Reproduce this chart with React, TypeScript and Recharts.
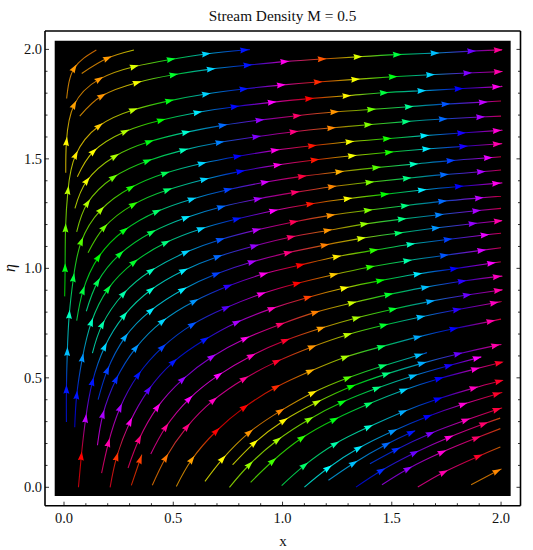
import { ScatterChart, Scatter, XAxis, YAxis, ReferenceArea } from 'recharts'

const xTicks = [0, 0.1, 0.2, 0.3, 0.4, 0.5, 0.6, 0.7, 0.8, 0.9, 1, 1.1, 1.2, 1.3, 1.4, 1.5, 1.6, 1.7, 1.8, 1.9, 2]
const yTicks = xTicks
const xDomain = [-0.087, 2.089]
const yDomain = [-0.084, 2.084]
const panelX = [-0.0426, 2.044]
const panelY = [-0.04, 2.04]

// each stream: start, arrow positions, end
const streamPoints: [number, number][][] = [
  [[0.012, 1.776], [0.046, 1.913], [0.148, 1.997]],
  [[0.081, 1.89], [0.198, 1.959], [0.32, 1.997]],
  [[0.008, 1.437], [0.011, 1.578], [0.046, 1.746], [0.16, 1.863], [0.32, 1.921], [0.488, 1.954], [0.649, 1.979], [0.824, 1.997], [0.841, 1.998]],
  [[0.072, 1.695], [0.172, 1.787], [0.333, 1.848], [0.5, 1.884], [0.671, 1.91], [0.839, 1.928], [1.008, 1.944], [1.179, 1.956], [1.343, 1.966], [1.523, 1.976], [1.695, 1.983], [1.863, 1.992], [1.985, 1.997], [2.0, 1.998]],
  [[0.003, 0.872], [0.005, 1.001], [0.007, 1.183], [0.018, 1.355], [0.053, 1.517], [0.16, 1.65], [0.316, 1.723], [0.481, 1.765], [0.649, 1.796], [0.821, 1.819], [0.992, 1.837], [1.161, 1.851], [1.332, 1.863], [1.504, 1.875], [1.675, 1.884], [1.845, 1.892], [1.985, 1.898], [2.0, 1.899]],
  [[0.061, 1.418], [0.134, 1.533], [0.279, 1.624], [0.443, 1.676], [0.61, 1.712], [0.78, 1.738], [0.95, 1.758], [1.121, 1.775], [1.292, 1.788], [1.463, 1.802], [1.635, 1.811], [1.805, 1.82], [1.977, 1.829], [2.0, 1.831]],
  [[0.05, 1.274], [0.104, 1.399], [0.232, 1.511], [0.389, 1.578], [0.557, 1.621], [0.725, 1.653], [0.894, 1.677], [1.065, 1.697], [1.236, 1.714], [1.405, 1.726], [1.577, 1.738], [1.745, 1.75], [1.916, 1.759], [2.0, 1.764]],
  [[0.058, 1.167], [0.107, 1.297], [0.226, 1.415], [0.381, 1.49], [0.546, 1.54], [0.711, 1.575], [0.879, 1.601], [1.05, 1.624], [1.222, 1.641], [1.391, 1.656], [1.564, 1.67], [1.733, 1.682], [1.904, 1.691], [2.0, 1.695]],
  [[0.011, 0.298], [0.011, 0.446], [0.015, 0.618], [0.024, 0.788], [0.043, 0.956], [0.079, 1.122], [0.168, 1.266], [0.305, 1.368], [0.462, 1.434], [0.63, 1.479], [0.793, 1.511], [0.964, 1.539], [1.134, 1.56], [1.306, 1.578], [1.477, 1.592], [1.648, 1.606], [1.817, 1.618], [1.98, 1.629], [2.0, 1.63]],
  [[0.11, 1.071], [0.183, 1.186], [0.317, 1.291], [0.473, 1.358], [0.641, 1.406], [0.806, 1.443], [0.976, 1.472], [1.146, 1.495], [1.317, 1.514], [1.486, 1.53], [1.657, 1.545], [1.826, 1.557], [1.98, 1.568], [2.0, 1.569]],
  [[0.058, 0.761], [0.087, 0.898], [0.157, 1.05], [0.275, 1.173], [0.424, 1.259], [0.584, 1.316], [0.749, 1.359], [0.918, 1.393], [1.088, 1.42], [1.259, 1.441], [1.428, 1.46], [1.599, 1.476], [1.768, 1.492], [1.939, 1.505], [2.0, 1.51]],
  [[0.102, 0.804], [0.153, 0.936], [0.256, 1.065], [0.4, 1.164], [0.557, 1.231], [0.718, 1.28], [0.886, 1.317], [1.056, 1.347], [1.225, 1.373], [1.397, 1.393], [1.568, 1.411], [1.738, 1.428], [1.907, 1.441], [2.0, 1.449]],
  [[0.049, 0.274], [0.058, 0.42], [0.084, 0.59], [0.125, 0.753], [0.201, 0.905], [0.32, 1.027], [0.465, 1.117], [0.626, 1.18], [0.79, 1.225], [0.957, 1.263], [1.126, 1.294], [1.297, 1.318], [1.466, 1.338], [1.637, 1.358], [1.806, 1.374], [1.977, 1.388], [2.0, 1.39]],
  [[0.13, 0.613], [0.175, 0.743], [0.272, 0.884], [0.398, 0.989], [0.557, 1.073], [0.714, 1.131], [0.88, 1.175], [1.05, 1.212], [1.219, 1.242], [1.39, 1.265], [1.559, 1.286], [1.73, 1.306], [1.898, 1.321], [2.0, 1.33]],
  [[0.066, 0.0], [0.079, 0.141], [0.099, 0.313], [0.13, 0.481], [0.186, 0.641], [0.275, 0.784], [0.397, 0.901], [0.546, 0.989], [0.703, 1.053], [0.87, 1.102], [1.038, 1.143], [1.205, 1.173], [1.373, 1.202], [1.545, 1.225], [1.715, 1.245], [1.886, 1.263], [2.0, 1.274]],
  [[0.156, 0.4], [0.198, 0.534], [0.279, 0.685], [0.397, 0.807], [0.542, 0.902], [0.696, 0.974], [0.859, 1.029], [1.024, 1.071], [1.192, 1.106], [1.359, 1.137], [1.53, 1.161], [1.7, 1.184], [1.869, 1.204], [1.985, 1.216], [2.0, 1.217]],
  [[0.153, 0.192], [0.178, 0.332], [0.238, 0.492], [0.328, 0.636], [0.45, 0.758], [0.595, 0.849], [0.749, 0.918], [0.912, 0.974], [1.08, 1.015], [1.247, 1.053], [1.416, 1.082], [1.585, 1.11], [1.755, 1.132], [1.924, 1.152], [2.0, 1.16]],
  [[0.172, 0.065], [0.203, 0.202], [0.256, 0.362], [0.339, 0.513], [0.45, 0.639], [0.587, 0.743], [0.741, 0.82], [0.902, 0.883], [1.065, 0.931], [1.233, 0.971], [1.4, 1.006], [1.57, 1.035], [1.738, 1.059], [1.909, 1.082], [2.0, 1.094]],
  [[0.211, 0.0], [0.241, 0.138], [0.302, 0.298], [0.386, 0.444], [0.5, 0.572], [0.644, 0.674], [0.79, 0.753], [0.95, 0.816], [1.115, 0.867], [1.282, 0.91], [1.446, 0.944], [1.617, 0.974], [1.784, 0.998], [1.954, 1.023], [2.0, 1.03]],
  [[0.293, 0.088], [0.343, 0.218], [0.427, 0.365], [0.542, 0.492], [0.676, 0.595], [0.828, 0.679], [0.989, 0.744], [1.149, 0.799], [1.317, 0.842], [1.484, 0.88], [1.652, 0.913], [1.82, 0.941], [1.98, 0.962], [2.0, 0.963]],
  [[0.397, 0.152], [0.465, 0.274], [0.572, 0.403], [0.706, 0.511], [0.856, 0.6], [1.012, 0.67], [1.175, 0.726], [1.337, 0.773], [1.504, 0.813], [1.675, 0.849], [1.843, 0.878], [1.985, 0.899], [2.0, 0.901]],
  [[0.308, 0.009], [0.348, 0.126], [0.357, 0.149]],
  [[0.404, 0.009], [0.465, 0.134], [0.562, 0.275], [0.683, 0.397], [0.824, 0.495], [0.973, 0.574], [1.134, 0.641], [1.297, 0.697], [1.462, 0.74], [1.631, 0.778], [1.797, 0.811], [1.967, 0.842], [2.0, 0.849]],
  [[0.514, 0.004], [0.584, 0.126], [0.696, 0.256], [0.825, 0.365], [0.97, 0.457], [1.126, 0.53], [1.286, 0.594], [1.451, 0.642], [1.617, 0.686], [1.782, 0.724], [1.951, 0.758], [2.0, 0.768]],
  [[0.645, 0.027], [0.725, 0.129], [0.847, 0.25], [0.989, 0.348], [1.137, 0.431], [1.297, 0.499], [1.458, 0.554], [1.622, 0.603], [1.661, 0.616]],
  [[0.772, 0.103], [0.87, 0.202], [1.005, 0.304], [1.157, 0.388], [1.314, 0.46], [1.474, 0.517], [1.637, 0.566], [1.802, 0.609], [1.973, 0.647], [1.996, 0.651]],
  [[0.757, 0.0], [0.848, 0.103], [0.976, 0.215], [1.121, 0.31], [1.272, 0.388], [1.431, 0.452], [1.596, 0.508], [1.759, 0.555], [1.889, 0.59], [1.904, 0.593]],
  [[0.854, 0.023], [0.954, 0.119], [1.088, 0.225], [1.236, 0.309], [1.393, 0.38], [1.553, 0.443], [1.715, 0.496], [1.881, 0.54], [1.99, 0.568], [2.0, 0.569]],
  [[0.996, 0.008], [1.099, 0.099], [1.24, 0.198], [1.393, 0.275], [1.55, 0.344], [1.71, 0.403], [1.874, 0.453], [1.99, 0.484], [2.0, 0.487]],
  [[1.1, 0.001], [1.207, 0.087], [1.347, 0.178], [1.504, 0.256], [1.664, 0.323], [1.825, 0.379], [1.98, 0.426], [2.0, 0.432]],
  [[1.21, 0.032], [1.324, 0.109], [1.474, 0.195], [1.588, 0.25], [1.603, 0.256]],
  [[1.4, 0.108], [1.519, 0.172], [1.675, 0.245], [1.837, 0.306], [1.98, 0.355], [2.0, 0.361]],
  [[1.336, 0.001], [1.451, 0.076], [1.603, 0.157], [1.761, 0.228], [1.919, 0.289], [1.996, 0.316]],
  [[1.455, 0.012], [1.573, 0.084], [1.729, 0.16], [1.886, 0.225], [1.997, 0.268]],
  [[1.619, 0.001], [1.736, 0.068], [1.895, 0.141], [1.997, 0.184]],
  [[1.863, 0.012], [1.98, 0.073], [2.0, 0.082]],
]

// hue of each point above, same order
const streamHues: number[][] = [
  [38, 36, 30],
  [38, 36, 62],
  [50, 58, 38, 36, 68, 130, 190, 235, 240],
  [40, 35, 62, 130, 190, 235, 305, 20, 68, 135, 195, 265, 325, 330],
  [120, 125, 95, 75, 55, 48, 75, 125, 190, 235, 305, 10, 62, 125, 190, 270, 320, 325],
  [55, 60, 78, 120, 185, 238, 300, 0, 58, 135, 190, 240, 305, 310],
  [70, 62, 80, 125, 170, 215, 275, 335, 35, 95, 155, 220, 285, 340],
  [85, 78, 95, 130, 165, 210, 270, 330, 32, 90, 150, 215, 280, 335],
  [235, 235, 195, 165, 135, 100, 80, 115, 140, 190, 240, 305, 5, 62, 115, 185, 245, 310, 315],
  [100, 95, 110, 145, 190, 238, 305, 5, 62, 115, 185, 245, 320, 325],
  [140, 135, 120, 125, 145, 190, 225, 290, 345, 42, 100, 165, 225, 295, 345],
  [160, 140, 130, 140, 185, 215, 280, 335, 32, 90, 150, 215, 280, 340],
  [240, 235, 205, 165, 135, 130, 150, 190, 235, 300, 5, 60, 120, 185, 240, 305, 310],
  [170, 160, 160, 165, 190, 220, 285, 340, 35, 90, 150, 215, 285, 345],
  [355, 0, 285, 235, 190, 165, 170, 185, 215, 275, 335, 35, 85, 150, 210, 280, 340],
  [225, 225, 200, 185, 185, 225, 280, 330, 30, 70, 145, 205, 275, 320, 325],
  [300, 280, 230, 205, 190, 205, 250, 305, 0, 55, 110, 165, 225, 295, 340],
  [335, 320, 280, 235, 225, 220, 260, 305, 0, 48, 110, 160, 220, 290, 340],
  [350, 12, 305, 260, 235, 235, 280, 315, 15, 60, 120, 185, 240, 300, 340],
  [335, 330, 305, 275, 280, 305, 335, 30, 72, 130, 195, 250, 315, 320],
  [320, 325, 300, 300, 315, 350, 38, 80, 130, 200, 265, 320, 325],
  [10, 15, 20],
  [30, 28, 330, 315, 325, 350, 35, 75, 130, 195, 250, 315, 340],
  [40, 38, 0, 0, 10, 42, 80, 140, 200, 240, 320, 345],
  [62, 58, 35, 32, 55, 100, 145, 195, 220],
  [62, 60, 58, 75, 120, 150, 200, 265, 320, 325],
  [80, 85, 80, 90, 125, 150, 195, 245, 300, 305],
  [95, 105, 110, 125, 145, 190, 240, 310, 350, 355],
  [140, 145, 160, 170, 200, 240, 315, 350, 355],
  [175, 180, 185, 205, 240, 310, 350, 355],
  [200, 195, 215, 235, 240],
  [225, 230, 270, 315, 345, 350],
  [240, 230, 265, 310, 335, 25],
  [280, 275, 310, 335, 20],
  [325, 320, 350, 30],
  [35, 32, 30],
]

const serif = '"Liberation Serif", serif'

const streams = streamPoints.map((pts, i) => {
  const xs = pts.map((p) => p[0])
  const ys = pts.map((p) => p[1])
  const x0 = Math.min(...xs)
  const x1 = Math.max(...xs)
  const y0 = Math.min(...ys)
  const y1 = Math.max(...ys)
  return pts.map(([x, y], j) => {
    const a = pts[Math.max(j - 1, 0)]
    const b = pts[Math.min(j + 1, pts.length - 1)]
    return {
      x,
      y,
      hue: streamHues[i][j],
      arrow: j > 0 && j < pts.length - 1,
      angle: (Math.atan2(a[1] - b[1], b[0] - a[0]) * 180) / Math.PI,
      // position along the lower-left to upper-right gradient of this stream
      offset: ((x - x0) / (x1 - x0 || 1) + (y - y0) / (y1 - y0 || 1)) / 2,
    }
  })
})

function Arrow({ cx, cy, payload }: any) {
  if (!payload.arrow) return null
  return (
    <polygon
      points="5,0 -4,-3 -3,0 -4,3"
      transform={`translate(${cx} ${cy}) rotate(${payload.angle})`}
      fill={`hsl(${payload.hue},100%,50%)`}
    />
  )
}

function isMajor(v: number) {
  return Math.abs(v * 2 - Math.round(v * 2)) < 1e-6
}

function makeTick(side: 'bottom' | 'top' | 'left' | 'right') {
  return function Tick({ x, y, payload }: any) {
    const len = isMajor(payload.value) ? 4 : 2.5
    const label = payload.value.toFixed(1)
    if (side === 'bottom' || side === 'top') {
      const dir = side === 'bottom' ? -1 : 1
      return (
        <g>
          <line x1={x} x2={x} y1={y} y2={y + dir * len} stroke="#000" strokeWidth={0.8} />
          {side === 'bottom' && isMajor(payload.value) && (
            <text x={x} y={y + 17} textAnchor="middle" fontSize={14.5} fontFamily={serif} fill="#111">
              {label}
            </text>
          )}
        </g>
      )
    }
    const dir = side === 'left' ? 1 : -1
    return (
      <g>
        <line x1={x} x2={x + dir * len} y1={y} y2={y} stroke="#000" strokeWidth={0.8} />
        {side === 'left' && isMajor(payload.value) && (
          <text x={x - 3} y={y + 5} textAnchor="end" fontSize={14.5} fontFamily={serif} fill="#111">
            {label}
          </text>
        )}
      </g>
    )
  }
}

const frame = { stroke: '#000', strokeWidth: 1.6 }

export default function App() {
  return (
    <div style={{ position: 'absolute', left: 0, top: 0, background: '#fff' }}>
      <ScatterChart width={533} height={550} margin={{ top: 0, right: 0, bottom: 0, left: 0 }}>
        <defs>
          {streams.map((s, i) => (
            <linearGradient key={i} id={`stream${i}`} x1="0" y1="1" x2="1" y2="0">
              {s.map((p, j) => (
                <stop key={j} offset={p.offset} stopColor={`hsl(${p.hue},100%,38%)`} />
              ))}
            </linearGradient>
          ))}
        </defs>
        <XAxis dataKey="x" type="number" domain={xDomain} ticks={xTicks} interval={0} height={44.3} tickSize={0} tickMargin={0} tickLine={false} axisLine={frame} tick={makeTick('bottom')} allowDataOverflow />
        <XAxis xAxisId="top" orientation="top" type="number" domain={xDomain} ticks={xTicks} interval={0} height={31} tickSize={0} tickMargin={0} tickLine={false} axisLine={frame} tick={makeTick('top')} allowDataOverflow />
        <YAxis dataKey="y" type="number" domain={yDomain} ticks={yTicks} interval={0} width={45} tickSize={0} tickMargin={0} tickLine={false} axisLine={frame} tick={makeTick('left')} allowDataOverflow />
        <YAxis yAxisId="right" orientation="right" type="number" domain={yDomain} ticks={yTicks} interval={0} width={12.5} tickSize={0} tickMargin={0} tickLine={false} axisLine={frame} tick={makeTick('right')} allowDataOverflow />
        <ReferenceArea x1={panelX[0]} x2={panelX[1]} y1={panelY[0]} y2={panelY[1]} fill="#000" fillOpacity={1} stroke="none" />
        {streams.map((s, i) => (
          <Scatter
            key={i}
            data={s}
            isAnimationActive={false}
            line={{ stroke: `url(#stream${i})`, strokeWidth: 1.1 }}
            lineJointType="natural"
            shape={Arrow}
          />
        ))}
        <text x={282.5} y={21} textAnchor="middle" fontSize={15.3} fontFamily={serif} fill="#111">
          Stream Density M = 0.5
        </text>
        <text x={283} y={546} textAnchor="middle" fontSize={15} fontFamily={serif} fill="#111">
          x
        </text>
        <text x={0} y={0} transform="translate(15 268) rotate(-90)" textAnchor="middle" fontSize={16} fontStyle="italic" fontFamily={serif} fill="#111">
          η
        </text>
      </ScatterChart>
    </div>
  )
}
